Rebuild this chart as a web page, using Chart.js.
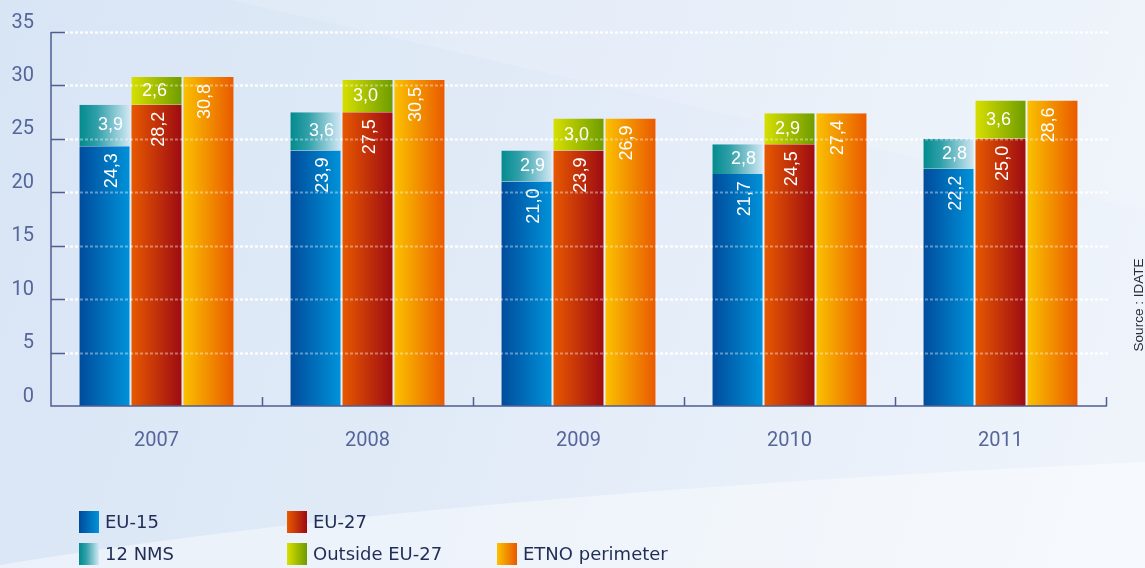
<!DOCTYPE html>
<html>
<head>
<meta charset="utf-8">
<script src="https://cdn.jsdelivr.net/npm/chart.js@4.4.1/dist/chart.umd.min.js"></script>
<style>
    html, body { margin: 0; padding: 0; background: #e3ecf7; }
    canvas { display: block; }
</style>
</head>
<body>
<canvas id="bar-revenue" width="1145" height="568"></canvas>
<script>
// data (billion EUR, comma decimals in labels)
var years = ['2007', '2008', '2009', '2010', '2011'];
var eu15 = [24.3, 23.9, 21.0, 21.7, 22.2];
var nms12 = [3.9, 3.6, 2.9, 2.8, 2.8];
var eu27 = [28.2, 27.5, 23.9, 24.5, 25.0];
var outsideEu27 = [2.6, 3.0, 3.0, 2.9, 3.6];
var etnoPerimeter = [30.8, 30.5, 26.9, 27.4, 28.6];
var yTicks = [0, 5, 10, 15, 20, 25, 30, 35];

var axisColor = '#4f5d91';
var tickFont = { family: 'Roboto', size: 20 };
var catPct = 0.739;

// horizontal gradients, left -> right
var blueStops = [[0, '#004b9b'], [1, '#0093da']];
var tealStops = [[0, '#008a8d'], [0.35, '#2f9fa8'], [1, '#d3e9f6']];
var redStops = [[0, '#e95a00'], [1, '#9c0a12']];
var greenStops = [[0, '#d9e000'], [1, '#6d9b00']];
var orangeStops = [[0, '#fbc300'], [1, '#e95800']];

function makeGradient(ctx, stops, left, width) {
    var g = ctx.createLinearGradient(left, 0, left + width, 0);
    stops.forEach(function(s) { g.addColorStop(s[0], s[1]); });
    return g;
}

function barGradient(stops, stackIndex) {
    return function(context) {
        var chart = context.chart;
        var x = chart.scales.x;
        if (!x || context.dataIndex == null || !x.width) return stops[0][1];
        var catW = (x.right - x.left) / years.length;
        var groupW = catW * catPct;
        var barW = groupW / 3;
        var left = x.getPixelForValue(context.dataIndex) - groupW / 2 + stackIndex * barW;
        return makeGradient(chart.ctx, stops, left, barW);
    };
}

function fmt(v) {
    return v.toFixed(1).replace('.', ',');
}

// where each legend entry sits, and the label tweaks per series
var legendSlots = [[79, 511], [79, 543], [287, 511], [287, 543], [497, 543]];
var labelShift = [7, 6, 2, -2, -4];

var decorPlugin = {
    id: 'decor',
    beforeDraw: function(chart) {
        var ctx = chart.ctx;
        var w = chart.width, h = chart.height;
        ctx.save();
        var bg = ctx.createLinearGradient(0, 0, w, h * 0.6);
        bg.addColorStop(0, '#d8e5f5');
        bg.addColorStop(0.55, '#e3ecf8');
        bg.addColorStop(1, '#eff4fb');
        ctx.fillStyle = bg;
        ctx.fillRect(0, 0, w, h);
        // lighter band top right
        ctx.fillStyle = 'rgba(255,255,255,0.14)';
        ctx.beginPath();
        ctx.moveTo(230, 0);
        ctx.lineTo(w, 0);
        ctx.lineTo(w, 210);
        ctx.closePath();
        ctx.fill();
        // lighter sweep at the bottom
        ctx.fillStyle = 'rgba(255,255,255,0.42)';
        ctx.beginPath();
        ctx.moveTo(0, 565);
        ctx.quadraticCurveTo(420, 495, w, 462);
        ctx.lineTo(w, h);
        ctx.lineTo(0, h);
        ctx.closePath();
        ctx.fill();
        ctx.restore();
    },
    beforeDatasetsDraw: function(chart) {
        var ctx = chart.ctx, y = chart.scales.y, a = chart.chartArea;
        ctx.save();
        ctx.strokeStyle = '#ffffff';
        ctx.lineWidth = 2;
        ctx.setLineDash([3, 2]);
        yTicks.forEach(function(v) {
            if (v === 0) return;
            var py = Math.round(y.getPixelForValue(v)) + 0.5;
            ctx.beginPath();
            ctx.moveTo(a.left + 14, py);
            ctx.lineTo(a.right + 2, py);
            ctx.stroke();
        });
        ctx.restore();
    },
    afterDatasetsDraw: function(chart) {
        var ctx = chart.ctx, x = chart.scales.x, y = chart.scales.y, a = chart.chartArea;
        ctx.save();
        // gridlines showing through the bars
        ctx.strokeStyle = 'rgba(255,255,255,0.38)';
        ctx.lineWidth = 2;
        ctx.setLineDash([3, 2]);
        yTicks.forEach(function(v) {
            if (v === 0) return;
            var py = Math.round(y.getPixelForValue(v)) + 0.5;
            ctx.beginPath();
            ctx.moveTo(a.left + 14, py);
            ctx.lineTo(a.right + 2, py);
            ctx.stroke();
        });
        ctx.setLineDash([]);

        // axes
        ctx.strokeStyle = axisColor;
        ctx.lineWidth = 1.5;
        var top = y.getPixelForValue(yTicks[yTicks.length - 1]);
        var bottom = y.getPixelForValue(0);
        ctx.beginPath();
        ctx.moveTo(a.left, top);
        ctx.lineTo(a.left, bottom);
        ctx.lineTo(a.right + 1, bottom);
        ctx.stroke();
        yTicks.forEach(function(v) {
            if (v === 0) return;
            var py = Math.round(y.getPixelForValue(v)) + 0.5;
            ctx.beginPath();
            ctx.moveTo(a.left, py);
            ctx.lineTo(a.left + 14, py);
            ctx.stroke();
        });
        var catW = (a.right - a.left) / years.length;
        for (var i = 1; i <= years.length; i++) {
            var bx = Math.round(a.left + i * catW) + 0.5;
            ctx.beginPath();
            ctx.moveTo(bx, bottom);
            ctx.lineTo(bx, bottom - 9);
            ctx.stroke();
        }

        // value labels inside the bars
        ctx.fillStyle = '#ffffff';
        ctx.font = '18px "Liberation Sans", Arial, sans-serif';
        chart.data.datasets.forEach(function(ds, di) {
            var meta = chart.getDatasetMeta(di);
            meta.data.forEach(function(el, idx) {
                var txt = fmt(ds.data[idx]);
                var cx = el.x + labelShift[di];
                if (ds.labelMode === 'flat') {
                    ctx.textAlign = 'center';
                    ctx.textBaseline = 'middle';
                    ctx.fillText(txt, cx, (el.y + el.base) / 2);
                } else {
                    ctx.save();
                    ctx.translate(cx, el.y + 7);
                    ctx.rotate(-Math.PI / 2);
                    ctx.textAlign = 'right';
                    ctx.textBaseline = 'middle';
                    ctx.fillText(txt, 0, 1);
                    ctx.restore();
                }
            });
        });
        ctx.restore();
    },
    afterDraw: function(chart) {
        var ctx = chart.ctx;
        ctx.save();
        // legend
        ctx.font = '18px "DejaVu Sans", sans-serif';
        ctx.textAlign = 'left';
        ctx.textBaseline = 'middle';
        chart.data.datasets.forEach(function(ds, di) {
            var s = legendSlots[di];
            ctx.fillStyle = makeGradient(ctx, ds.legendStops, s[0], 20);
            ctx.fillRect(s[0], s[1], 20, 22);
            ctx.fillStyle = '#1f2d57';
            ctx.fillText(ds.label, s[0] + 26, s[1] + 12);
        });
        // source note
        ctx.translate(1139, 305);
        ctx.rotate(-Math.PI / 2);
        ctx.font = '13.5px "Liberation Sans", Arial, sans-serif';
        ctx.fillStyle = '#2b2b3a';
        ctx.textAlign = 'center';
        ctx.fillText('Source : IDATE', 0, 0);
        ctx.restore();
    }
};

document.addEventListener('DOMContentLoaded', function() {
    const canvas = document.getElementById('bar-revenue');

    function series(label, values, stack, stackIndex, stops, labelMode) {
        return {
            label: label,
            data: values,
            stack: stack,
            backgroundColor: barGradient(stops, stackIndex),
            borderColor: 'rgba(255,255,255,0.32)',
            borderWidth: { left: 1, right: 1, top: 0, bottom: 0 },
            borderSkipped: false,
            legendStops: stops,
            labelMode: labelMode
        };
    }

    new Chart(canvas, {
        type: 'bar',
        data: {
            labels: years,
            datasets: [
                series('EU-15', eu15, 'a', 0, blueStops, 'up'),
                series('12 NMS', nms12, 'a', 0, tealStops, 'flat'),
                series('EU-27', eu27, 'b', 1, redStops, 'up'),
                series('Outside EU-27', outsideEu27, 'b', 1, greenStops, 'flat'),
                series('ETNO perimeter', etnoPerimeter, 'c', 2, orangeStops, 'up')
            ]
        },
        options: {
            responsive: false,
            animation: false,
            categoryPercentage: catPct,
            barPercentage: 1,
            layout: { padding: { left: 0, right: 39, top: 32, bottom: 0 } },
            plugins: {
                legend: { display: false },
                tooltip: { enabled: false }
            },
            scales: {
                x: {
                    stacked: true,
                    grid: { display: false, drawTicks: false },
                    border: { display: false },
                    ticks: { color: '#56659a', font: tickFont, padding: 23 },
                    afterFit: function(scale) { scale.height = 162; }
                },
                y: {
                    stacked: true,
                    min: 0,
                    max: 35,
                    grid: { display: false, drawTicks: false },
                    border: { display: false },
                    afterBuildTicks: function(scale) {
                        scale.ticks = yTicks.map(function(v) { return { value: v }; });
                    },
                    ticks: { color: '#56659a', font: tickFont, padding: 17, labelOffset: -9.5 },
                    afterFit: function(scale) { scale.width = 51; }
                }
            }
        },
        plugins: [decorPlugin]
    });
});
</script>
</body>
</html>
